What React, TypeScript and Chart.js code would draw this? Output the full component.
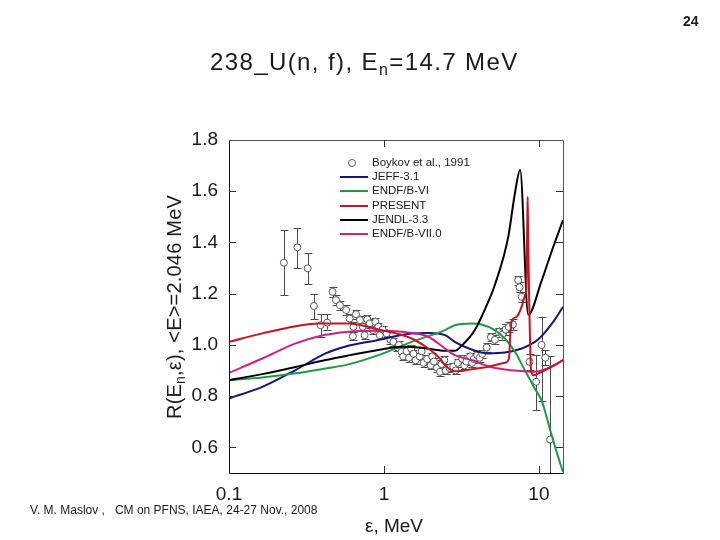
import React, { useEffect, useRef } from "react";
import { Chart, registerables } from "chart.js";

Chart.register(...registerables);

// ---- axis ticks ----
const xTicks = [0.1, 1, 10];
const yTicks = [0.6, 0.8, 1.0, 1.2, 1.4, 1.6, 1.8];

// ---- evaluated curves (E in MeV, ratio R) ----
const jeffE = [0.1, 0.164, 0.269, 0.42, 0.56, 0.92, 1.51, 1.95, 2.48, 2.86, 3.68, 4.71, 6.03, 7.74, 9.87, 12.6, 14.3];
const jeffR = [0.791, 0.836, 0.902, 0.967, 0.993, 1.019, 1.045, 1.047, 1.038, 1.012, 0.982, 0.967, 0.97, 0.986, 1.021, 1.097, 1.149];

const endf6E = [0.1, 0.164, 0.269, 0.42, 0.58, 0.92, 1.51, 2.48, 2.86, 3.68, 4.27, 5.2, 6.03, 7.0, 8.1, 9.4, 10.4, 10.9, 12.0, 13.3, 14.3];
const endf6R = [0.8625, 0.873, 0.889, 0.908, 0.923, 0.96, 1.012, 1.058, 1.077, 1.084, 1.08, 1.058, 1.025, 0.973, 0.902, 0.83, 0.784, 0.745, 0.654, 0.563, 0.504];

const presentE = [0.1, 0.164, 0.269, 0.381, 0.594, 0.92, 1.2, 1.51, 1.93, 2.24, 2.48, 2.71, 3.0, 3.68, 4.71, 6.03, 6.4, 6.55, 6.7, 7.2, 7.74, 8.1, 8.3, 8.42, 8.46, 8.52, 8.7, 8.9, 9.2, 10.4, 12.6, 14.3];
const presentR = [1.012, 1.045, 1.073, 1.084, 1.084, 1.06, 1.045, 1.025, 0.986, 0.954, 0.921, 0.902, 0.897, 0.905, 0.915, 0.93, 0.945, 1.05, 1.097, 1.11, 1.15, 1.19, 1.22, 1.5, 1.578, 1.4, 1.1, 0.9, 0.882, 0.895, 0.921, 0.941];

const jendlE = [0.1, 0.164, 0.269, 0.42, 0.58, 0.92, 1.3, 1.7, 2.48, 2.86, 3.2, 3.86, 4.49, 5.2, 6.34, 7.0, 7.56, 8.53, 10.4, 12.0, 14.3];
const jendlR = [0.8625, 0.886, 0.914, 0.941, 0.958, 0.98, 0.993, 0.99, 0.977, 0.977, 0.999, 1.058, 1.14, 1.235, 1.422, 1.592, 1.683, 1.118, 1.25, 1.36, 1.487];

const endf7E = [0.1, 0.164, 0.269, 0.381, 0.594, 0.92, 1.51, 1.93, 2.48, 2.86, 3.68, 4.71, 6.03, 7.74, 9.3, 10.4, 12.6, 14.3];
const endf7R = [0.891, 0.947, 1.006, 1.034, 1.051, 1.055, 1.047, 1.032, 0.986, 0.96, 0.941, 0.917, 0.904, 0.898, 0.895, 0.9, 0.921, 0.941];

// ---- Boykov et al., 1991 experimental points ----
const boykovE = [0.226, 0.276, 0.322, 0.353, 0.39, 0.43, 0.466, 0.49, 0.52, 0.57, 0.6, 0.635, 0.63, 0.66, 0.7, 0.73, 0.75, 0.78, 0.81, 0.85, 0.88, 0.92, 0.94, 0.98,
  1.04, 1.1, 1.15, 1.22, 1.25, 1.3, 1.33, 1.4, 1.45, 1.5, 1.55, 1.6, 1.7, 1.75, 1.8, 1.9, 2.0, 2.05, 2.1, 2.2, 2.3, 2.35, 2.45, 2.5, 2.65, 2.8, 2.9,
  3.0, 3.2, 3.3, 3.4, 3.6, 3.7, 3.8, 4.0, 4.15, 4.3, 4.6, 4.9, 5.2, 5.5, 5.8, 6.1, 6.4, 6.8, 7.35, 7.5, 7.74, 8.7, 9.6, 10.4, 11.0, 11.8];
const boykovR = [1.321, 1.381, 1.299, 1.152, 1.077, 1.087, 1.207, 1.175, 1.155, 1.136, 1.103, 1.071, 1.034, 1.12, 1.097, 1.071, 1.038, 1.1, 1.084, 1.058, 1.09, 1.071, 1.038, 1.06,
  1.045, 1.02, 1.012, 0.99, 1.0, 0.973, 0.955, 0.975, 0.95, 0.985, 0.965, 0.94, 0.955, 0.975, 0.93, 0.945, 0.92, 0.955, 0.935, 0.91, 0.895, 0.925, 0.94, 0.9, 0.91, 0.915, 0.9,
  0.93, 0.945, 0.92, 0.935, 0.955, 0.93, 0.945, 0.96, 0.95, 0.965, 0.99, 1.03, 1.02, 1.05, 1.04, 1.06, 1.07, 1.08, 1.253, 1.225, 1.188, 0.934, 0.856, 1.0, 0.95, 0.631];
const boykovErrLo = [0.128, 0.082, 0.062, 0.052, 0.045, 0.027, 0.02, 0.018, 0.018, 0.018, 0.017, 0.017, 0.016, 0.017, 0.017, 0.016, 0.016, 0.016, 0.016, 0.016, 0.016, 0.015, 0.015, 0.015,
  0.015, 0.015, 0.015, 0.015, 0.015, 0.015, 0.015, 0.015, 0.015, 0.015, 0.015, 0.015, 0.015, 0.015, 0.015, 0.015, 0.015, 0.015, 0.015, 0.015, 0.015, 0.015, 0.015, 0.015, 0.015, 0.015, 0.015,
  0.015, 0.015, 0.015, 0.015, 0.015, 0.015, 0.015, 0.015, 0.015, 0.015, 0.016, 0.016, 0.017, 0.018, 0.019, 0.02, 0.021, 0.022, 0.018, 0.02, 0.02, 0.03, 0.111, 0.22, 0.03, 0.33];
const boykovErrHi = [0.127, 0.074, 0.058, 0.046, 0.043, 0.033, 0.02, 0.018, 0.018, 0.018, 0.017, 0.017, 0.016, 0.017, 0.017, 0.016, 0.016, 0.016, 0.016, 0.016, 0.016, 0.015, 0.015, 0.015,
  0.015, 0.015, 0.015, 0.015, 0.015, 0.015, 0.015, 0.015, 0.015, 0.015, 0.015, 0.015, 0.015, 0.015, 0.015, 0.015, 0.015, 0.015, 0.015, 0.015, 0.015, 0.015, 0.015, 0.015, 0.015, 0.015, 0.015,
  0.015, 0.015, 0.015, 0.015, 0.015, 0.015, 0.015, 0.015, 0.015, 0.015, 0.016, 0.016, 0.017, 0.018, 0.019, 0.02, 0.021, 0.022, 0.017, 0.02, 0.02, 0.03, 0.104, 0.11, 0.03, 0.324];

const COLORS = {
  jeff: "#15157a",
  endf6: "#1f9a42",
  present: "#c8141e",
  jendl: "#000000",
  endf7: "#d3207f",
  exp: "#5a5a5a",
};

const FONT = "'Liberation Sans', Arial, Helvetica, sans-serif";

const pts = (xs: number[], ys: number[]) => xs.map((x, i) => ({ x, y: ys[i] }));

const decorPlugin = {
  id: "decor",
  beforeDatasetsDraw(chart: any) {
    const { ctx, chartArea: a } = chart;
    const xs = chart.scales.x;
    const ys = chart.scales.y;
    ctx.save();
    ctx.beginPath();
    ctx.rect(a.left, a.top, a.right - a.left, a.bottom - a.top);
    ctx.clip();
    ctx.strokeStyle = "#4a4a4a";
    ctx.lineWidth = 1;
    for (let i = 0; i < boykovE.length; i++) {
      const lo = boykovErrLo[i];
      const hi = boykovErrHi[i];
      if (!lo && !hi) continue;
      const px = Math.round(xs.getPixelForValue(boykovE[i])) + 0.5;
      const y1 = ys.getPixelForValue(boykovR[i] - lo);
      const y2 = ys.getPixelForValue(boykovR[i] + hi);
      ctx.beginPath();
      ctx.moveTo(px, y1);
      ctx.lineTo(px, y2);
      ctx.moveTo(px - 4, Math.round(y1) + 0.5);
      ctx.lineTo(px + 4, Math.round(y1) + 0.5);
      ctx.moveTo(px - 4, Math.round(y2) + 0.5);
      ctx.lineTo(px + 4, Math.round(y2) + 0.5);
      ctx.stroke();
    }
    ctx.restore();
  },
  afterDraw(chart: any) {
    const { ctx, chartArea: a } = chart;
    const xs = chart.scales.x;
    const ys = chart.scales.y;
    ctx.save();
    ctx.lineWidth = 1;
    ctx.strokeStyle = "#111";
    ctx.beginPath();
    ctx.moveTo(a.left + 0.5, a.top + 0.5);
    ctx.lineTo(a.left + 0.5, a.bottom + 0.5);
    ctx.lineTo(a.right + 0.5, a.bottom + 0.5);
    ctx.stroke();
    ctx.strokeStyle = "#555";
    ctx.beginPath();
    ctx.moveTo(a.left + 0.5, a.top + 0.5);
    ctx.lineTo(a.right + 0.5, a.top + 0.5);
    ctx.lineTo(a.right + 0.5, a.bottom + 0.5);
    ctx.stroke();
    ctx.strokeStyle = "#333";
    ctx.beginPath();
    xTicks.forEach((v) => {
      const px = Math.round(xs.getPixelForValue(v)) + 0.5;
      if (px <= a.left + 1 || px >= a.right - 1) return;
      ctx.moveTo(px, a.bottom);
      ctx.lineTo(px, a.bottom - 7);
      ctx.moveTo(px, a.top);
      ctx.lineTo(px, a.top + 7);
    });
    yTicks.forEach((v) => {
      const py = Math.round(ys.getPixelForValue(v)) + 0.5;
      if (py <= a.top + 1 || py >= a.bottom - 1) return;
      ctx.moveTo(a.left, py);
      ctx.lineTo(a.left + 7, py);
      ctx.moveTo(a.right, py);
      ctx.lineTo(a.right - 7, py);
    });
    ctx.stroke();
    ctx.restore();
  },
};

function ChartCanvas() {
  const ref = useRef<HTMLCanvasElement | null>(null);
  useEffect(() => {
    if (!ref.current) return;
    const lineDs = (label: string, xs: number[], ys: number[], color: string) => ({
      type: "line" as const,
      label,
      data: pts(xs, ys),
      borderColor: color,
      backgroundColor: color,
      borderWidth: 2,
      pointRadius: 0,
      fill: false,
      cubicInterpolationMode: "monotone" as const,
    });
    const chart = new Chart(ref.current, {
      type: "scatter",
      data: {
        datasets: [
          lineDs("PRESENT", presentE, presentR, COLORS.present),
          lineDs("ENDF/B-VII.0", endf7E, endf7R, COLORS.endf7),
          lineDs("JENDL-3.3", jendlE, jendlR, COLORS.jendl),
          lineDs("ENDF/B-VI", endf6E, endf6R, COLORS.endf6),
          lineDs("JEFF-3.1", jeffE, jeffR, COLORS.jeff),
          {
            type: "scatter" as const,
            label: "Boykov et al., 1991",
            data: pts(boykovE, boykovR),
            pointStyle: "circle",
            pointRadius: 3.5,
            borderWidth: 1,
            borderColor: COLORS.exp,
            backgroundColor: "#ffffff",
            showLine: false,
          },
        ] as any,
      },
      options: {
        animation: false,
        responsive: false,
        maintainAspectRatio: false,
        layout: { padding: { left: 0, right: 157, top: 140, bottom: 0 } },
        plugins: { legend: { display: false }, tooltip: { enabled: false }, title: { display: false } },
        scales: {
          x: {
            type: "logarithmic",
            min: 0.1,
            max: 14.3,
            afterBuildTicks: (ax: any) => {
              ax.ticks = xTicks.map((v) => ({ value: v }));
            },
            afterFit: (ax: any) => {
              ax.height = 67;
            },
            grid: { display: false, drawTicks: false },
            border: { display: false },
            ticks: {
              autoSkip: false,
              maxRotation: 0,
              padding: 10,
              color: "#1a1a1a",
              font: { family: FONT, size: 19 },
              callback: (v: any) => String(v),
            },
          },
          y: {
            type: "linear",
            min: 0.5,
            max: 1.8,
            afterBuildTicks: (ax: any) => {
              ax.ticks = yTicks.map((v) => ({ value: v }));
            },
            afterFit: (ax: any) => {
              ax.width = 229;
            },
            grid: { display: false, drawTicks: false },
            border: { display: false },
            ticks: {
              autoSkip: false,
              padding: 11,
              color: "#1a1a1a",
              font: { family: FONT, size: 19 },
              callback: (v: any) => Number(v).toFixed(1),
            },
          },
        },
      } as any,
      plugins: [decorPlugin],
    });
    return () => chart.destroy();
  }, []);
  return <canvas ref={ref} width={720} height={540} style={{ width: 720, height: 540, display: "block" }} />;
}

const legendItems = [
  { label: "Boykov et al., 1991", color: COLORS.exp, marker: true },
  { label: "JEFF-3.1", color: COLORS.jeff, marker: false },
  { label: "ENDF/B-VI", color: COLORS.endf6, marker: false },
  { label: "PRESENT", color: COLORS.present, marker: false },
  { label: "JENDL-3.3", color: COLORS.jendl, marker: false },
  { label: "ENDF/B-VII.0", color: COLORS.endf7, marker: false },
];

export default function App() {
  const abs: React.CSSProperties = { position: "absolute", fontFamily: FONT, color: "#1a1a1a", whiteSpace: "nowrap", lineHeight: 1 };
  return (
    <div style={{ position: "absolute", left: 0, top: 0, width: 720, height: 540, background: "#fff", overflow: "hidden" }}>
      <ChartCanvas />
      <div style={{ ...abs, left: 683, top: 14, fontSize: 14, fontWeight: "bold" }}>24</div>
      <div style={{ ...abs, left: 210, top: 50, fontSize: 24, letterSpacing: 1.4 }}>
        238_U(n, f), E<span style={{ fontSize: 16, position: "relative", top: 5 }}>n</span>=14.7 MeV
      </div>
      <div
        style={{
          ...abs,
          left: 174,
          top: 307,
          fontSize: 20,
          letterSpacing: 0.2,
          transform: "translate(-50%, -50%) rotate(-90deg)",
        }}
      >
        R(E<span style={{ fontSize: 14, position: "relative", top: 4 }}>n</span>,ε), &lt;E&gt;=2.046 MeV
      </div>
      <div style={{ ...abs, left: 394, top: 516, fontSize: 19, transform: "translateX(-50%)" }}>ε, MeV</div>
      <div style={{ ...abs, left: 30, top: 504, fontSize: 12 }}>V. M. Maslov ,&nbsp;&nbsp; CM on PFNS, IAEA, 24-27 Nov., 2008</div>
      {legendItems.map((it, i) => (
        <div key={it.label} style={{ position: "absolute", left: 340, top: 156 + i * 14.2, height: 14, width: 160 }}>
          {it.marker ? (
            <div
              style={{
                position: "absolute",
                left: 8,
                top: 3,
                width: 6,
                height: 6,
                borderRadius: "50%",
                border: `1px solid ${it.color}`,
                background: "#fff",
              }}
            />
          ) : (
            <div style={{ position: "absolute", left: 0, top: 6, width: 28, height: 2, background: it.color }} />
          )}
          <div style={{ ...abs, left: 32, top: 1, fontSize: 11.5 }}>{it.label}</div>
        </div>
      ))}
    </div>
  );
}
